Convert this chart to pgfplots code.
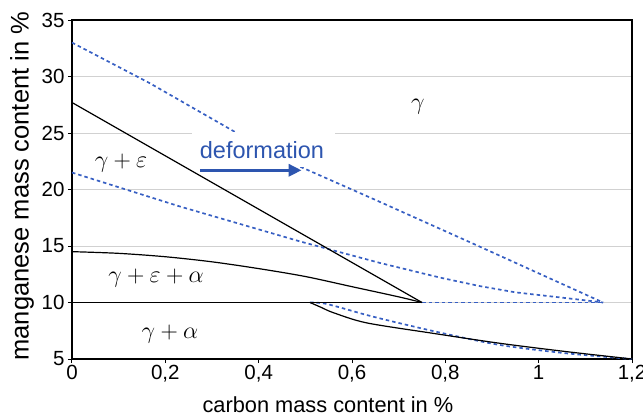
\RequirePackage{fix-cm}
\documentclass[border=0pt]{standalone}
\usepackage{fontspec}
\setmainfont{Liberation Sans}
\usepackage{pgfplots}
\pgfplotsset{compat=1.18}
\usetikzlibrary{arrows.meta}
\definecolor{dblue}{RGB}{55,95,195}
\definecolor{tblue}{RGB}{45,85,175}
\begin{document}
\begin{tikzpicture}
\begin{axis}[
 at={(0,0)}, anchor=south west,
 scale only axis, width=560pt, height=339pt,
 xmin=0, xmax=1.2, ymin=5, ymax=35,
 xtick={0,0.2,0.4,0.6,0.8,1,1.2},
 xticklabels={0,{0,2},{0,4},{0,6},{0,8},1,{1,2}},
 ytick={5,10,15,20,25,30,35},
 tick align=outside, tick pos=left, major tick length=4pt,
 ymajorgrids, grid style={black!18, line width=0.8pt},
 axis line style={line width=1.4pt},
 every tick/.style={black, line width=1pt},
 tick label style={font=\fontsize{20.5}{23}\selectfont},
 xticklabel style={yshift=1pt},
 /pgf/number format/assume math mode=true,
 xlabel={carbon mass content in \%}, ylabel={manganese mass content in \%},
 every axis x label/.style={at={(axis description cs:0.457,0)}, anchor=center, yshift=-46pt, font=\fontsize{21.8}{24}\selectfont},
 every axis y label/.style={at={(axis description cs:0,0.51)}, anchor=center, xshift=-50pt, rotate=90, font=\fontsize{25.5}{28}\selectfont},
]
% blue dashed lines
\addplot[dblue, line width=1.7pt, dash pattern=on 3.5pt off 3pt] coordinates {
 (0,33) (0.167,29.4) (0.349,25.1) (0.49,22.0) (0.66,18.9) (0.874,14.94) (1.138,10)};
\addplot[dblue, line width=1.7pt, dash pattern=on 3.5pt off 3pt] coordinates {
 (0,21.5) (0.231,18.5) (0.489,15.4) (0.66,13.5) (0.789,12.2) (0.874,11.45) (0.95,10.9) (1.088,10.25) (1.138,10)};
\addplot[dblue, line width=1.7pt, dash pattern=on 3.5pt off 3pt] coordinates {
 (0.75,10) (1.138,10)};
\addplot[dblue, line width=1.7pt, dash pattern=on 3.5pt off 3pt, smooth, tension=0.5] coordinates {
 (0.51,10) (0.546,9.87) (0.631,8.9) (0.703,8.16) (0.796,7.27) (0.917,6.24) (1.06,5.5) (1.2,5)};
% black phase boundaries
\addplot[black, line width=1.2pt] coordinates {(0,27.7) (0.75,10)};
\addplot[black, line width=1.2pt, smooth] coordinates {
 (0,14.5) (0.1,14.35) (0.2,14.05) (0.3,13.6) (0.4,13.0) (0.5,12.3) (0.6,11.4) (0.7,10.5) (0.75,10)};
\addplot[black, line width=1.4pt] coordinates {(0,10) (0.75,10)};
\addplot[black, line width=1.2pt, smooth, tension=0.5] coordinates {
 (0.51,10) (0.535,9.55) (0.56,9.1) (0.631,8.2) (0.774,7.27) (0.917,6.39) (1.06,5.65) (1.2,5)};
% annotation
\fill[white] (axis cs:0.257,21.95) rectangle (axis cs:0.564,25.12);
\draw[tblue, line width=3.5pt, -{Triangle[length=13pt,width=12pt]}] (axis cs:0.274,21.7) -- (axis cs:0.492,21.7);
\node[tblue, font=\fontsize{23.5}{27}\selectfont] at (axis cs:0.407,23.5) {deformation};
\node[font=\fontsize{24}{27}\selectfont] at (axis cs:0.741,27.3) {$\gamma$};
\node[font=\fontsize{24}{27}\selectfont] at (axis cs:0.105,22.3) {$\gamma+\varepsilon$};
\node[font=\fontsize{24}{27}\selectfont] at (axis cs:0.18,12.2) {$\gamma+\varepsilon+\alpha$};
\node[font=\fontsize{24}{27}\selectfont] at (axis cs:0.21,7.2) {$\gamma+\alpha$};
\end{axis}
\pgfresetboundingbox
\useasboundingbox (-72pt,-57pt) rectangle (571pt,359pt);
\end{tikzpicture}
\end{document}
